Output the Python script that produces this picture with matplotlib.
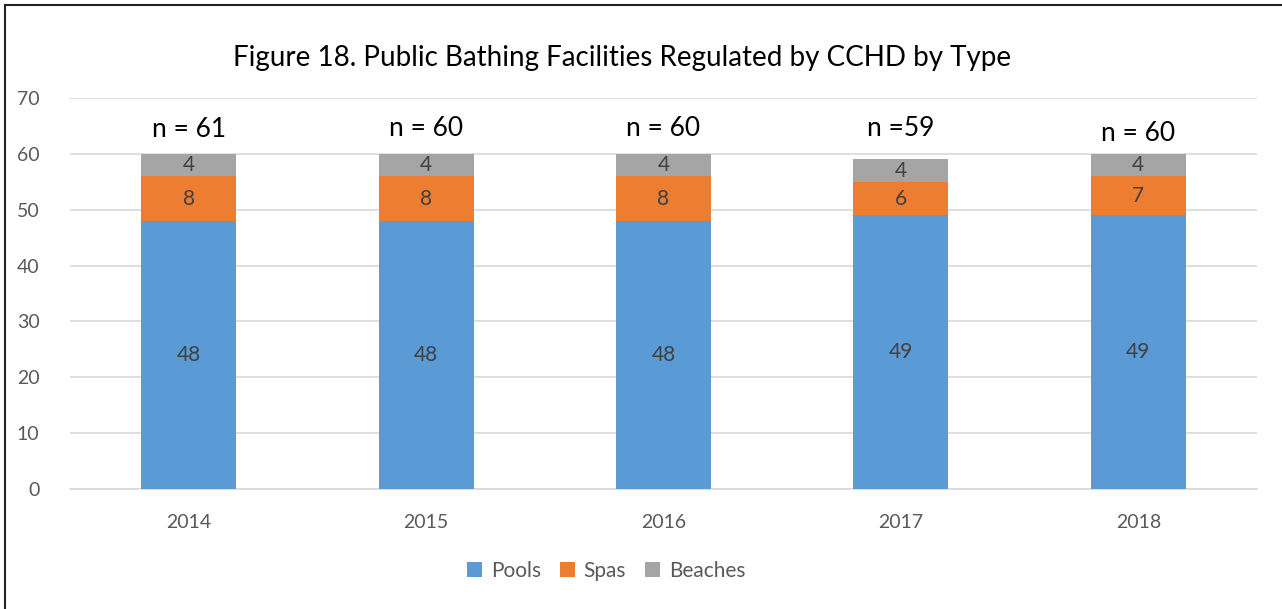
import numpy as np
import matplotlib.pyplot as plt
from matplotlib.lines import Line2D

years = ['2014', '2015', '2016', '2017', '2018']
pools = [48, 48, 48, 49, 49]
spas = [8, 8, 8, 6, 7]
beaches = [4, 4, 4, 4, 4]
n_labels = ['n = 61', 'n = 60', 'n = 60', 'n =59', 'n = 60']
n_label_y = [64.3, 64.6, 64.6, 64.6, 63.6]

colors = {'Pools': '#5B9BD5', 'Spas': '#ED7D31', 'Beaches': '#A5A5A5'}

plt.rcParams['font.family'] = ['Lato', 'DejaVu Sans']

fig = plt.figure(figsize=(12.82, 6.09), dpi=100)
ax = fig.add_axes([70 / 1282, 1 - 489 / 609, 1187 / 1282, 391 / 609])

x = np.arange(len(years))
width = 0.4
bottom = np.zeros(len(years))
for name, vals in [('Pools', pools), ('Spas', spas), ('Beaches', beaches)]:
    bars = ax.bar(x, vals, width, bottom=bottom, color=colors[name], label=name, zorder=3)
    for b, v, bt in zip(bars, vals, bottom):
        ax.text(b.get_x() + b.get_width() / 2, bt + v / 2, str(v),
                ha='center', va='center', fontsize=15, color='#404040', zorder=4)
    bottom += np.array(vals)

for xi, lab, ly in zip(x, n_labels, n_label_y):
    ax.text(xi, ly, lab, ha='center', va='center', fontsize=19, color='black')

ax.set_xlim(-0.5, len(years) - 0.5)
ax.set_ylim(0, 70)
ax.set_yticks(range(0, 71, 10))
ax.set_xticks(x)
ax.set_xticklabels(years)
ax.yaxis.grid(True, color='#D9D9D9', linewidth=1.2, zorder=0)
ax.set_axisbelow(True)
for s in ['top', 'right', 'left']:
    ax.spines[s].set_visible(False)
ax.spines['bottom'].set_color('#D9D9D9')
ax.spines['bottom'].set_linewidth(1.2)
ax.tick_params(axis='both', length=0, labelsize=14, colors='#595959')
ax.tick_params(axis='y', pad=22)
ax.tick_params(axis='x', pad=18)

fig.text(622 / 1282, 1 - 58 / 609, 'Figure 18. Public Bathing Facilities Regulated by CCHD by Type',
         ha='center', va='center', fontsize=20, color='black')

handles, labels = ax.get_legend_handles_labels()
fig.legend(handles, labels, loc='center', bbox_to_anchor=(606 / 1282, 1 - 571 / 609),
           ncol=3, frameon=False, fontsize=15, handlelength=0.75, handleheight=0.75,
           columnspacing=0.9, handletextpad=0.4, labelcolor='#595959')

# partial frame (left and top edges)
fig.add_artist(Line2D([5 / 1282, 5 / 1282], [0, 1 - 5 / 609], transform=fig.transFigure,
                      color='#222222', linewidth=1.5))
fig.add_artist(Line2D([5 / 1282, 1], [1 - 5 / 609, 1 - 5 / 609], transform=fig.transFigure,
                      color='#222222', linewidth=1.5))

fig.savefig('out.png', dpi=100)
